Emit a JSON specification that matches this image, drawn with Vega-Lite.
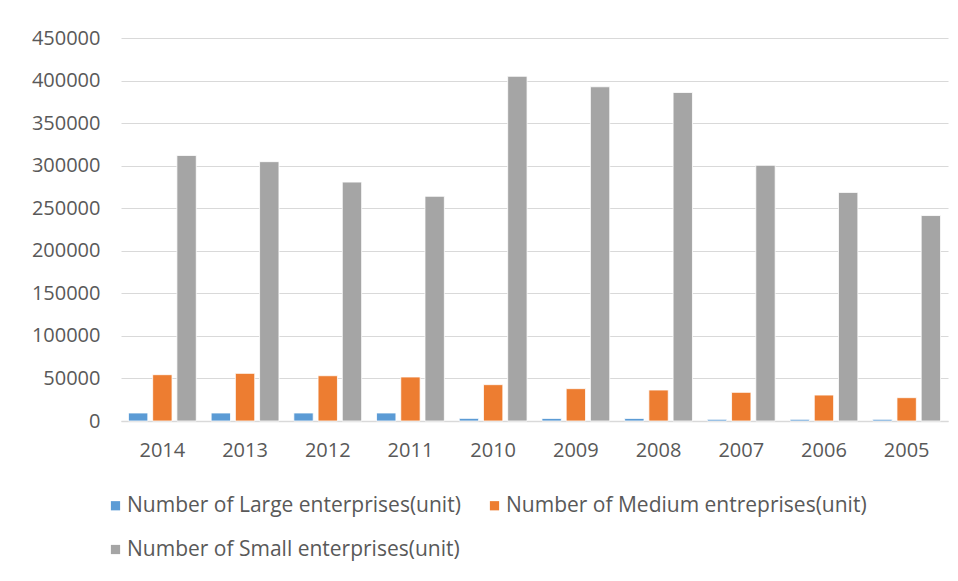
{
  "$schema": "https://vega.github.io/schema/vega-lite/v6.json",
  "width": 827,
  "height": 383,
  "autosize": {"type": "none"},
  "padding": {"left": 121, "top": 38, "right": 10, "bottom": 160},
  "background": "white",
  "config": {
    "view": {"stroke": null},
    "font": "Open Sans"
  },
  "data": {
    "values": [
      {"year": "2014", "series": "Number of Large enterprises(unit)", "value": 9400},
      {"year": "2014", "series": "Number of Medium entreprises(unit)", "value": 54400},
      {"year": "2014", "series": "Number of Small enterprises(unit)", "value": 312000},
      {"year": "2013", "series": "Number of Large enterprises(unit)", "value": 9400},
      {"year": "2013", "series": "Number of Medium entreprises(unit)", "value": 56000},
      {"year": "2013", "series": "Number of Small enterprises(unit)", "value": 304700},
      {"year": "2012", "series": "Number of Large enterprises(unit)", "value": 9400},
      {"year": "2012", "series": "Number of Medium entreprises(unit)", "value": 53200},
      {"year": "2012", "series": "Number of Small enterprises(unit)", "value": 280700},
      {"year": "2011", "series": "Number of Large enterprises(unit)", "value": 9400},
      {"year": "2011", "series": "Number of Medium entreprises(unit)", "value": 51700},
      {"year": "2011", "series": "Number of Small enterprises(unit)", "value": 264000},
      {"year": "2010", "series": "Number of Large enterprises(unit)", "value": 3100},
      {"year": "2010", "series": "Number of Medium entreprises(unit)", "value": 42700},
      {"year": "2010", "series": "Number of Small enterprises(unit)", "value": 405000},
      {"year": "2009", "series": "Number of Large enterprises(unit)", "value": 3000},
      {"year": "2009", "series": "Number of Medium entreprises(unit)", "value": 38000},
      {"year": "2009", "series": "Number of Small enterprises(unit)", "value": 392700},
      {"year": "2008", "series": "Number of Large enterprises(unit)", "value": 3000},
      {"year": "2008", "series": "Number of Medium entreprises(unit)", "value": 36400},
      {"year": "2008", "series": "Number of Small enterprises(unit)", "value": 386000},
      {"year": "2007", "series": "Number of Large enterprises(unit)", "value": 2000},
      {"year": "2007", "series": "Number of Medium entreprises(unit)", "value": 33700},
      {"year": "2007", "series": "Number of Small enterprises(unit)", "value": 300400},
      {"year": "2006", "series": "Number of Large enterprises(unit)", "value": 2000},
      {"year": "2006", "series": "Number of Medium entreprises(unit)", "value": 30500},
      {"year": "2006", "series": "Number of Small enterprises(unit)", "value": 268600},
      {"year": "2005", "series": "Number of Large enterprises(unit)", "value": 2000},
      {"year": "2005", "series": "Number of Medium entreprises(unit)", "value": 27400},
      {"year": "2005", "series": "Number of Small enterprises(unit)", "value": 241400}
    ]
  },
  "mark": {"type": "bar", "stroke": "white", "strokeWidth": 0.8},
  "encoding": {
    "x": {
      "field": "year",
      "type": "nominal",
      "sort": null,
      "scale": {"paddingInner": 0.18, "paddingOuter": 0.09},
      "axis": {
        "title": null,
        "labelAngle": 0,
        "labelFontSize": 20,
        "labelColor": "#595959",
        "labelPadding": 19,
        "ticks": false,
        "domainColor": "#D9D9D9",
        "domainWidth": 1.5
      }
    },
    "xOffset": {
      "field": "series",
      "type": "nominal",
      "scale": {"paddingInner": 0.2, "paddingOuter": 0}
    },
    "y": {
      "field": "value",
      "type": "quantitative",
      "scale": {"domain": [0, 450000], "nice": false},
      "axis": {
        "title": null,
        "values": [0, 50000, 100000, 150000, 200000, 250000, 300000, 350000, 400000, 450000],
        "format": "d",
        "labelFontSize": 20,
        "labelColor": "#595959",
        "labelPadding": 21,
        "ticks": false,
        "domain": false,
        "gridColor": "#D9D9D9",
        "gridWidth": 1.2
      }
    },
    "color": {
      "field": "series",
      "type": "nominal",
      "scale": {"range": ["#5B9BD5", "#ED7D31", "#A5A5A5"]},
      "legend": {
        "title": null,
        "orient": "none",
        "legendX": -16,
        "legendY": 457,
        "columns": 2,
        "direction": "horizontal",
        "symbolType": "square",
        "symbolSize": 85,
        "symbolStrokeWidth": 0,
        "labelFontSize": 21,
        "labelColor": "#595959",
        "labelLimit": 500,
        "columnPadding": 23,
        "rowPadding": 22,
        "labelOffset": 1
      }
    }
  }
}
